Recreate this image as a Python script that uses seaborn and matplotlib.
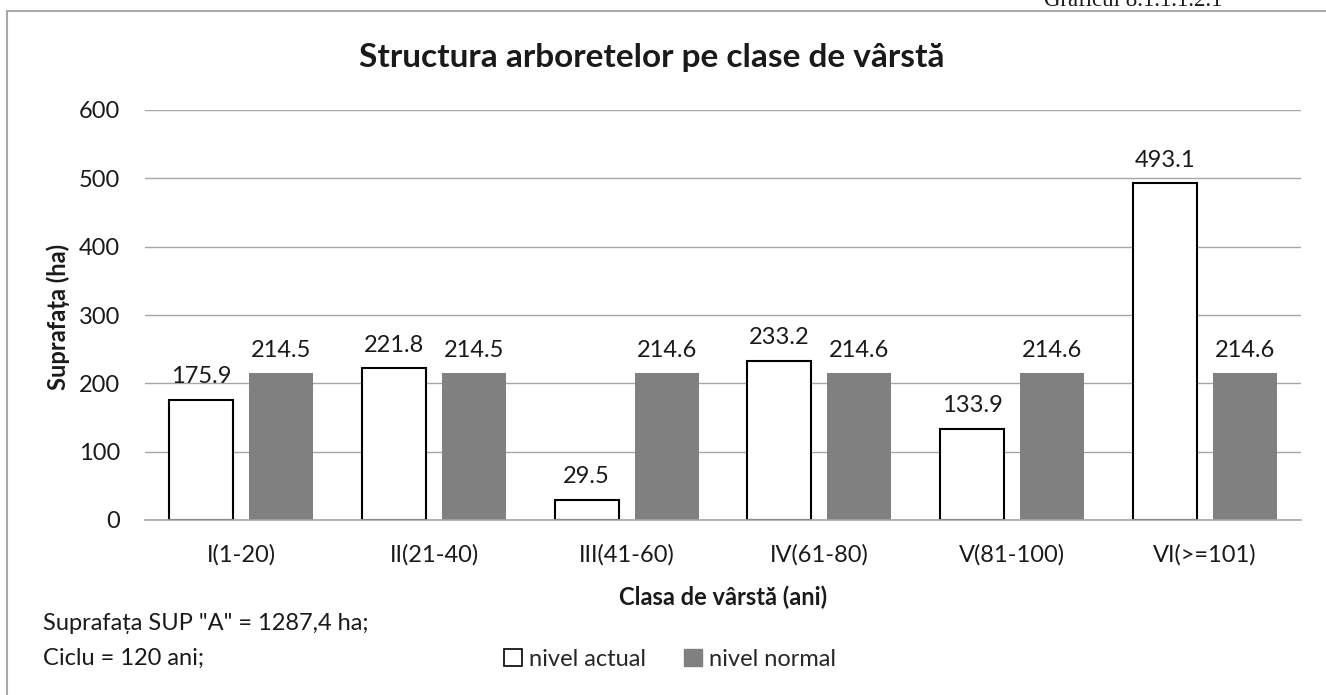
import pandas as pd
import seaborn as sns
import matplotlib.pyplot as plt
from matplotlib.lines import Line2D
from matplotlib.patches import Patch

# Data
classes = ["I(1-20)", "II(21-40)", "III(41-60)", "IV(61-80)", "V(81-100)", "VI(>=101)"]
actual = [175.9, 221.8, 29.5, 233.2, 133.9, 493.1]
normal = [214.5, 214.5, 214.6, 214.6, 214.6, 214.6]
series = ["nivel actual", "nivel normal"]

df = pd.DataFrame({
    "clasa": classes * 2,
    "valoare": actual + normal,
    "nivel": [series[0]] * len(classes) + [series[1]] * len(classes),
})

sns.set_theme(style="white")
plt.rcParams["font.family"] = ["Lato", "DejaVu Sans"]
FS = 17
TXT = "#1a1a1a"

fig = plt.figure(figsize=(13.26, 6.95), dpi=100)
ax = fig.add_axes([145 / 1326, 1 - 520 / 695, 1156 / 1326, 410 / 695])

sns.barplot(data=df, x="clasa", y="valoare", hue="nivel",
            palette=["white", "#808080"], width=0.83, gap=0.2,
            ax=ax, legend=False)

for p in ax.patches:
    if p.get_facecolor()[0] > 0.9:
        p.set_edgecolor("black")
        p.set_linewidth(1.5)
    else:
        p.set_linewidth(0)

for c in ax.containers:
    ax.bar_label(c, fmt="%.1f", padding=9, fontsize=FS, color=TXT)

ax.set_ylim(0, 600)
ax.set_yticks(range(0, 700, 100))
ax.yaxis.grid(True, color="#a6a6a6", linewidth=1)
ax.set_axisbelow(True)
for s in ["top", "right", "left"]:
    ax.spines[s].set_visible(False)
ax.spines["bottom"].set_color("#a6a6a6")
ax.spines["bottom"].set_linewidth(1.2)
ax.tick_params(axis="both", length=0, labelsize=FS, colors=TXT)
ax.tick_params(axis="x", pad=17)
ax.tick_params(axis="y", pad=18)
ax.set_xlabel("")
ax.set_ylabel("")
ax.set_xlim(-0.5, 5.5)

# Texts
fig.text(652 / 1326, 1 - 67 / 695, "Structura arboretelor pe clase de vârstă",
         ha="center", va="baseline", fontsize=24, fontweight="bold", color=TXT)
fig.text(58 / 1326, 1 - 317 / 695, "Suprafața (ha)", rotation=90,
         ha="center", va="center", fontsize=FS, fontweight="bold", color=TXT)
fig.text(723 / 1326, 1 - 605 / 695, "Clasa de vârstă (ani)",
         ha="center", va="baseline", fontsize=FS, fontweight="bold", color=TXT)
fig.text(43 / 1326, 1 - 630 / 695, 'Suprafața SUP "A" = 1287,4 ha;',
         ha="left", va="baseline", fontsize=FS, color=TXT)
fig.text(43 / 1326, 1 - 665 / 695, "Ciclu = 120 ani;",
         ha="left", va="baseline", fontsize=FS, color=TXT)
fig.text(1222 / 1326, 1 - 6 / 695, "Graficul 8.1.1.1.2.1", ha="right", va="baseline",
         fontsize=16.5, family=["Liberation Serif", "DejaVu Serif"], color=TXT)

# Legend
handles = [Patch(facecolor="white", edgecolor="black", linewidth=1.2),
           Patch(facecolor="#808080", edgecolor="#808080")]
fig.legend(handles, series, loc="center", bbox_to_anchor=(670 / 1326, 1 - 659 / 695),
           ncol=2, frameon=False, fontsize=FS, handlelength=0.75, handleheight=0.75,
           handletextpad=0.3, columnspacing=1.6, borderpad=0)

# Outer frame
fig.add_artist(Line2D([7 / 1326, 1], [1 - 11 / 695, 1 - 11 / 695], color="#aaaaaa", lw=1.5))
fig.add_artist(Line2D([7 / 1326, 7 / 1326], [0, 1 - 11 / 695], color="#aaaaaa", lw=1.5))

fig.savefig("out.png", dpi=100)
